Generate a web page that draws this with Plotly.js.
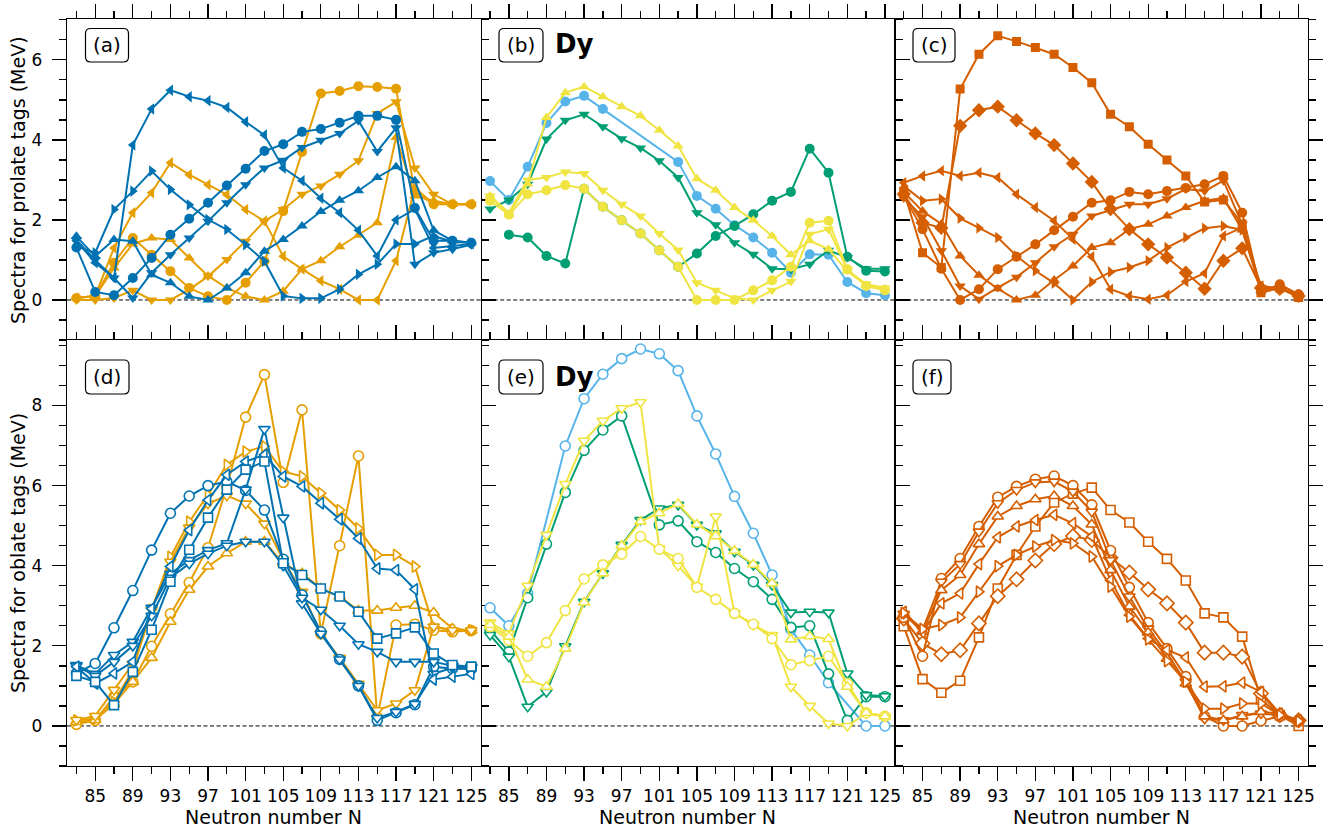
<!DOCTYPE html>
<html><head><meta charset="utf-8">
<script src="https://cdn.plot.ly/plotly-3.0.1.min.js"></script>
<style>html,body{margin:0;padding:0;background:#fff}#chart{width:1332px;height:829px}</style>
</head><body><div id="chart"></div>
<script>
// Neutron numbers (x categories)
const N = [83,85,87,89,91,93,95,97,99,101,103,105,107,109,111,113,115,117,119,121,123,125];

// ---- Panel (a): prolate tags, blue & orange ----
const a_blue_circ  = [1.31,0.2,0.12,0.55,1.05,1.63,2.03,2.43,2.86,3.28,3.72,3.89,4.2,4.27,4.43,4.6,4.6,4.5,2.3,1.48,1.48,1.43];
const a_blue_tdown = [1.5,1.0,0.55,0.05,0.68,1.13,1.55,1.97,2.43,2.88,3.3,3.49,3.81,3.99,4.16,4.48,3.71,4.3,0.89,1.18,1.27,1.38];
const a_blue_tup   = [1.59,1.09,1.51,1.47,0.63,0.43,0.09,0.0,0.3,0.68,1.22,1.51,1.85,2.21,2.49,2.73,3.06,3.33,2.98,1.74,1.48,1.43];
const a_blue_tleft = [1.48,0.93,0.55,3.87,4.77,5.24,5.08,4.98,4.81,4.45,4.12,3.3,2.98,2.54,2.18,1.74,1.1,2.0,2.27,1.3,1.35,1.4];
const a_blue_tright= [1.34,1.18,2.26,2.72,3.22,2.76,2.38,2.01,1.76,1.38,0.97,0.1,0.04,0.04,0.27,0.64,0.89,1.4,1.4,1.6,1.45,1.43];
const a_or_circ    = [0.05,0.1,0.93,1.55,1.13,0.72,0.3,0.09,0.0,0.43,0.97,2.22,3.7,5.16,5.22,5.34,5.32,5.28,2.7,2.39,2.39,2.39];
const a_or_tdown   = [0.0,0.0,0.05,0.24,0.0,0.0,0.26,0.59,1.01,1.47,1.97,2.26,2.64,2.85,3.14,3.48,4.66,4.95,3.3,2.64,2.39,2.39];
const a_or_tup     = [0.05,0.1,0.8,1.4,1.55,1.51,1.05,0.6,0.3,0.09,0.0,0.22,0.77,0.98,1.33,1.62,1.93,4.06,2.6,2.48,2.39,2.39];
const a_or_tleft   = [0.05,0.1,1.3,2.18,2.68,3.43,3.13,2.88,2.63,2.26,1.97,1.09,0.77,0.48,0.27,0.0,0.0,0.98,2.8,2.4,2.39,2.39];

// ---- Panel (b): Dy prolate ----
const b_sky_circ   = [2.97,2.5,3.33,4.42,4.96,5.1,4.77,null,null,null,3.45,2.6,2.28,1.87,1.56,1.18,0.68,1.14,1.13,0.45,0.17,0.12];
const b_green_circ = [null,1.63,1.56,1.1,0.91,2.78,2.33,1.99,1.66,1.24,0.83,1.16,1.6,1.85,2.14,2.48,2.7,3.78,3.18,1.08,0.73,0.71];
const b_green_tdown= [2.27,2.5,2.89,4.02,4.49,4.64,4.33,4.03,3.8,3.48,3.06,2.18,1.88,1.43,1.14,0.78,0.77,0.89,1.24,1.06,0.78,0.78];
const b_yel_tup    = [2.6,2.14,2.9,4.56,5.18,5.33,5.08,4.83,4.6,4.24,3.85,3.03,2.74,2.31,1.99,1.6,1.13,1.48,1.27,0.72,0.37,0.28];
const b_yel_tdown  = [2.6,2.18,3.0,3.06,3.2,3.16,2.74,2.39,2.1,1.66,1.25,0.43,0.24,0.04,0.0,0.24,0.46,1.64,1.77,0.75,0.4,0.3];
const b_yel_circ   = [2.48,2.13,2.64,2.74,2.87,2.78,2.33,1.99,1.66,1.24,0.83,0.0,0.0,0.0,0.24,0.49,0.83,1.93,1.98,0.77,0.35,0.24];

// ---- Panel (c): prolate, vermilion ----
const c_square = [2.72,1.18,0.81,5.27,6.14,6.6,6.46,6.31,6.14,5.81,5.43,4.64,4.33,3.89,3.5,3.1,2.45,2.5,1.9,0.18,0.3,0.06];
const c_diamond= [2.65,1.93,1.8,4.35,4.74,4.83,4.49,4.16,3.87,3.41,2.95,2.27,1.77,1.39,1.06,0.68,0.28,0.98,1.29,0.3,0.28,0.1];
const c_circ   = [2.6,1.77,0.78,0.0,0.27,0.77,1.08,1.39,1.74,2.08,2.43,2.49,2.7,2.64,2.72,2.8,2.89,3.1,2.18,0.2,0.39,0.14];
const c_tdown  = [2.55,2.08,1.23,0.35,0.02,0.31,0.57,0.93,1.33,1.64,2.1,2.25,2.39,2.39,2.53,2.77,2.72,2.98,1.89,0.3,0.3,0.12];
const c_tup    = [2.7,2.22,1.9,1.1,0.62,0.28,0.0,0.12,0.5,0.85,1.31,1.43,1.77,1.89,2.1,2.31,2.48,2.55,1.75,0.25,0.3,0.1];
const c_tleft  = [2.93,3.1,3.23,3.1,3.18,3.06,2.64,2.31,1.98,1.52,1.08,0.27,0.1,0.02,0.12,0.46,0.67,1.6,1.81,0.35,0.3,0.12];
const c_tright = [2.85,2.48,2.52,2.04,1.8,1.56,1.1,0.73,0.42,0.0,0.45,0.7,0.81,0.98,1.31,1.56,1.79,1.85,1.75,0.3,0.3,0.12];

// ---- Panel (d): oblate, blue & orange ----
const d_blue_circ  = [1.31,1.56,2.45,3.38,4.39,5.31,5.74,6.0,6.1,5.88,5.39,4.16,3.27,2.35,1.66,1.0,0.14,0.33,0.53,1.48,1.43,1.42];
const d_blue_tdownA= [1.52,1.3,1.77,2.1,2.95,3.8,4.14,4.39,4.56,5.9,7.41,5.2,3.06,2.3,1.66,1.0,0.2,0.35,0.55,1.3,1.45,1.48];
const d_blue_tdownB= [1.5,1.25,1.6,2.0,2.75,3.7,4.05,4.3,4.5,4.6,4.6,4.0,3.2,2.9,2.5,2.04,1.85,1.6,1.6,1.6,1.5,1.45];
const d_blue_tleft = [1.48,1.06,1.31,1.6,2.93,3.98,4.89,5.64,6.27,6.6,6.77,6.23,5.98,5.56,5.16,4.68,3.93,3.89,3.41,1.16,1.23,1.3];
const d_blue_square= [1.25,1.1,0.52,1.35,2.4,3.6,4.4,5.2,5.9,6.4,6.6,4.06,3.77,3.43,3.23,2.85,2.18,2.31,2.46,1.81,1.52,1.48];
const d_or_circ    = [0.04,0.14,0.73,1.1,1.99,2.8,3.58,4.45,5.98,7.71,8.77,6.08,7.89,2.3,4.5,6.74,0.22,2.52,2.54,2.39,2.35,2.38];
const d_or_tright  = [0.14,0.18,0.6,1.4,2.9,4.22,5.1,5.77,6.52,6.85,6.98,6.35,6.23,5.81,5.39,4.93,4.27,4.27,3.98,2.48,2.39,2.39];
const d_or_tup     = [0.1,0.15,0.55,1.1,1.7,2.6,3.4,3.98,4.31,4.6,4.6,4.06,3.81,3.43,3.23,2.88,2.88,2.95,3.0,2.83,2.43,2.38];
const d_or_tdown   = [0.15,0.25,0.9,1.55,2.9,4.1,4.95,5.55,5.75,5.55,5.05,4.15,3.35,2.3,1.7,1.05,0.39,0.56,0.89,2.48,2.39,2.39];

// ---- Panel (e): Dy oblate ----
const e_sky_circ   = [2.95,2.5,3.31,null,6.99,8.17,8.78,9.17,9.41,9.29,8.87,7.74,6.79,5.73,4.81,3.77,2.41,1.77,1.08,null,0.0,0.0];
const e_green_circ = [2.4,1.85,3.2,4.54,5.83,6.88,7.39,7.74,null,5.02,5.12,4.6,4.33,3.93,3.6,3.16,2.46,2.5,1.3,0.14,0.73,0.73];
const e_green_tdown= [2.27,1.73,0.48,0.85,1.99,3.1,3.81,4.52,5.14,5.43,5.52,5.02,4.81,4.35,4.02,3.52,2.83,2.85,2.83,1.31,0.77,0.74];
const e_yel_tdown  = [2.58,2.31,3.5,4.77,6.04,7.12,7.62,7.93,8.08,4.43,4.0,3.48,5.23,2.81,2.52,2.27,0.98,0.5,0.06,0.0,0.31,0.23];
const e_yel_circ   = [2.48,2.14,1.74,2.08,2.88,3.67,4.02,4.29,4.73,4.41,4.18,3.46,3.16,2.81,2.54,2.18,1.53,1.63,1.74,1.06,0.33,0.24];
const e_yel_tup    = [2.52,2.23,1.16,0.98,1.93,3.08,3.81,4.5,5.1,5.31,5.54,5.03,4.74,4.37,4.03,3.56,2.16,2.24,2.17,0.98,0.33,0.24];

// ---- Panel (f): oblate, vermilion ----
const f_square = [2.49,1.17,0.83,1.13,2.21,3.43,4.27,4.98,5.58,5.8,5.95,5.39,5.08,4.6,4.17,3.63,2.81,2.71,2.23,0.66,0.27,0.0];
const f_diamond= [2.68,2.06,1.79,1.89,2.56,3.24,3.66,4.13,4.54,4.74,4.64,4.2,3.83,3.41,3.06,2.58,1.83,1.83,1.73,0.81,0.27,0.14];
const f_circ   = [2.71,1.74,3.68,4.18,4.98,5.71,5.98,6.16,6.24,6.0,5.52,4.38,3.46,2.58,1.93,1.23,0.24,0.0,0.0,0.13,0.24,0.12];
const f_tdown  = [2.8,2.4,3.6,4.04,4.85,5.56,5.89,6.08,6.1,5.85,5.35,4.14,3.23,2.43,1.81,1.1,0.18,0.14,0.27,0.31,0.27,0.1];
const f_tup    = [2.8,2.35,3.39,3.77,4.54,5.23,5.49,5.66,5.74,5.49,5.03,3.89,2.98,2.33,1.68,1.06,0.24,0.14,0.24,0.35,0.31,0.14];
const f_tleft  = [2.85,2.33,3.06,3.31,4.04,4.71,4.98,5.14,5.27,5.06,4.73,3.64,2.77,2.18,1.9,1.71,0.98,0.99,1.08,0.85,0.31,0.14];
const f_tright = [2.82,2.42,2.52,2.71,3.35,3.99,4.27,4.48,4.64,4.56,4.23,3.48,2.73,2.16,1.62,1.1,0.43,0.43,0.56,0.56,0.27,0.12];

const xTickVals = [85,89,93,97,101,105,109,113,117,121,125];
const panelLabels = ['(a)','(b)','(c)','(d)','(e)','(f)'];
const elementLabel = 'Dy';
const xTitle = 'Neutron number N';
const yTitleTop = 'Spectra for prolate tags (MeV)';
const yTitleBottom = 'Spectra for oblate tags (MeV)';

const COL = {blue:'#0072B2', orange:'#E69F00', sky:'#56B4E9', green:'#009E73', yellow:'#F0E442', verm:'#D55E00'};
const SYM = {circ:'circle', square:'square', diamond:'diamond', tup:'triangle-up', tdown:'triangle-down', tleft:'triangle-left', tright:'triangle-right'};
const SIZE = {circle:10, square:9, diamond:11, 'triangle-up':10, 'triangle-down':10, 'triangle-left':10, 'triangle-right':10};

function S(y, k, color, sym, open){
  const s = SYM[sym];
  return {x:N, y:y, xaxis:'x'+(k>1?k:''), yaxis:'y'+(k>1?k:''), type:'scatter', mode:'lines+markers',
    connectgaps:true, showlegend:false, hoverinfo:'skip',
    line:{color:color, width:2},
    marker:{symbol:s, size:SIZE[s], color: open ? '#ffffff' : color,
            line:{color:color, width: open ? 1.6 : 0}}};
}

const data = [
  S(a_or_circ,1,COL.orange,'circ'), S(a_or_tdown,1,COL.orange,'tdown'), S(a_or_tup,1,COL.orange,'tup'), S(a_or_tleft,1,COL.orange,'tleft'),
  S(a_blue_circ,1,COL.blue,'circ'), S(a_blue_tdown,1,COL.blue,'tdown'), S(a_blue_tup,1,COL.blue,'tup'), S(a_blue_tleft,1,COL.blue,'tleft'), S(a_blue_tright,1,COL.blue,'tright'),
  S(b_sky_circ,2,COL.sky,'circ'), S(b_green_circ,2,COL.green,'circ'), S(b_green_tdown,2,COL.green,'tdown'),
  S(b_yel_tup,2,COL.yellow,'tup'), S(b_yel_tdown,2,COL.yellow,'tdown'), S(b_yel_circ,2,COL.yellow,'circ'),
  S(c_square,3,COL.verm,'square'), S(c_diamond,3,COL.verm,'diamond'), S(c_circ,3,COL.verm,'circ'), S(c_tdown,3,COL.verm,'tdown'),
  S(c_tup,3,COL.verm,'tup'), S(c_tleft,3,COL.verm,'tleft'), S(c_tright,3,COL.verm,'tright'),
  S(d_or_circ,4,COL.orange,'circ',true), S(d_or_tright,4,COL.orange,'tright',true), S(d_or_tup,4,COL.orange,'tup',true), S(d_or_tdown,4,COL.orange,'tdown',true),
  S(d_blue_circ,4,COL.blue,'circ',true), S(d_blue_tdownA,4,COL.blue,'tdown',true), S(d_blue_tdownB,4,COL.blue,'tdown',true), S(d_blue_tleft,4,COL.blue,'tleft',true), S(d_blue_square,4,COL.blue,'square',true),
  S(e_sky_circ,5,COL.sky,'circ',true), S(e_green_circ,5,COL.green,'circ',true), S(e_green_tdown,5,COL.green,'tdown',true),
  S(e_yel_tdown,5,COL.yellow,'tdown',true), S(e_yel_circ,5,COL.yellow,'circ',true), S(e_yel_tup,5,COL.yellow,'tup',true),
  S(f_square,6,COL.verm,'square',true), S(f_diamond,6,COL.verm,'diamond',true), S(f_circ,6,COL.verm,'circ',true), S(f_tdown,6,COL.verm,'tdown',true),
  S(f_tup,6,COL.verm,'tup',true), S(f_tleft,6,COL.verm,'tleft',true), S(f_tright,6,COL.verm,'tright',true)
];

// ---- Layout geometry (pixels) ----
const W=1332, H=829, ML=67, MR=24, MT=19, MB=63;
const PW=W-ML-MR, PH=H-MT-MB;
const splitY = (321)/PH; // top row fraction
const px = x => (x-ML)/PW;
const py = y => (H-MB-y)/PH;
const FONT = 'DejaVu Sans, Liberation Sans, sans-serif';

function xa(col,bottom){
  const idx = (bottom?3:0)+col+1;
  return {domain:[col/3,(col+1)/3], anchor: 'y'+(idx>1?idx:''),
    range:[82,126], side: bottom?'bottom':'top', showticklabels: !!bottom,
    tickmode:'array', tickvals:xTickVals, ticks:'outside', ticklen:14, tickwidth:1.3, tickcolor:'#000',
    minor:{ticks:'outside', tick0:83, dtick:2, ticklen:7, tickwidth:1.3, tickcolor:'#000', showgrid:false},
    showline:true, linecolor:'#000', linewidth:1.2, mirror: bottom?'allticks':false,
    showgrid:false, zeroline:false, tickfont:{family:FONT,size:17,color:'#000'}, ticklabelstandoff:0};
}
function ya(col,bottom){
  const dom = bottom ? [0, 1-splitY] : [1-splitY, 1];
  const idx = (bottom?3:0)+col+1;
  return {domain:dom, anchor:'x'+(idx>1?idx:''),
    range: bottom ? [-1, 9.635] : [-1, 7.02], side: col===0?'left':'right', showticklabels: col===0,
    tickmode:'linear', tick0:0, dtick:2, ticks:'outside', ticklen:14, tickwidth:1.3, tickcolor:'#000',
    minor:{ticks:'outside', dtick:0.5, ticklen:7, tickwidth:1.3, tickcolor:'#000', showgrid:false},
    showline:true, linecolor:'#000', linewidth:1.2, mirror: col===0?'allticks':false,
    showgrid:false, zeroline:false, tickfont:{family:FONT,size:17,color:'#000'}, ticklabelstandoff:6};
}

const layout = {
  width:W, height:H, margin:{l:ML,r:MR,t:MT,b:MB}, paper_bgcolor:'#fff', plot_bgcolor:'rgba(0,0,0,0)',
  font:{family:FONT, color:'#000'}, showlegend:false,
  shapes:[], annotations:[]
};
for(let r=0;r<2;r++) for(let c=0;c<3;c++){
  const i = r*3+c+1, s = i>1?i:'';
  layout['xaxis'+s] = xa(c, r===1);
  layout['yaxis'+s] = ya(c, r===1);
  layout.shapes.push({type:'line', xref:'x'+s+' domain', yref:'y'+s, x0:0, x1:1, y0:0, y1:0,
    line:{color:'#000', width:1, dash:'4px,2.5px'}, layer:'below'});
}

// rounded boxes for panel labels (pixel extents)
function rbox(x0,y0,x1,y1,r){
  const X=px, Y=py, rx=r/PW, ry=r/PH;
  const a=X(x0), b=X(x1), t=Y(y0), u=Y(y1);
  return `M ${a+rx},${t} L ${b-rx},${t} Q ${b},${t} ${b},${t-ry} L ${b},${u+ry} Q ${b},${u} ${b-rx},${u} L ${a+rx},${u} Q ${a},${u} ${a},${u+ry} L ${a},${t-ry} Q ${a},${t} ${a+rx},${t} Z`;
}
const boxes = [[85.5,28.5,128.5,62],[499,28.5,543,62],[913,28.5,955,62],[85.5,360,129,394],[499,360,543,394],[913,360,951,394]];
boxes.forEach((bx,i)=>{
  layout.shapes.push({type:'path', xref:'paper', yref:'paper', path:rbox(bx[0],bx[1],bx[2],bx[3],5),
    line:{color:'#000', width:1.2}, fillcolor:'#fff', layer:'above'});
  layout.annotations.push({xref:'paper', yref:'paper', x:px((bx[0]+bx[2])/2), y:py((bx[1]+bx[3])/2),
    text:panelLabels[i], showarrow:false, xanchor:'center', yanchor:'middle', font:{family:FONT,size:20,color:'#000'}});
});
[44, 377].forEach(yy=>{
  layout.annotations.push({xref:'paper', yref:'paper', x:px(574), y:py(yy), text:'<b>'+elementLabel+'</b>',
    showarrow:false, xanchor:'center', yanchor:'middle', font:{family:FONT,size:26,color:'#000'}});
});
[273.5, 687, 1101].forEach(cx=>{
  layout.annotations.push({xref:'paper', yref:'paper', x:px(cx), y:py(817), text:xTitle, showarrow:false,
    xanchor:'center', yanchor:'middle', font:{family:FONT,size:19,color:'#000'}});
});
layout.annotations.push({xref:'paper', yref:'paper', x:px(18), y:py(180), text:yTitleTop, textangle:-90, showarrow:false,
  xanchor:'center', yanchor:'middle', font:{family:FONT,size:19,color:'#000'}});
layout.annotations.push({xref:'paper', yref:'paper', x:px(18), y:py(553), text:yTitleBottom, textangle:-90, showarrow:false,
  xanchor:'center', yanchor:'middle', font:{family:FONT,size:19,color:'#000'}});

Plotly.newPlot('chart', data, layout, {staticPlot:true, displayModeBar:false});
</script></body></html>
